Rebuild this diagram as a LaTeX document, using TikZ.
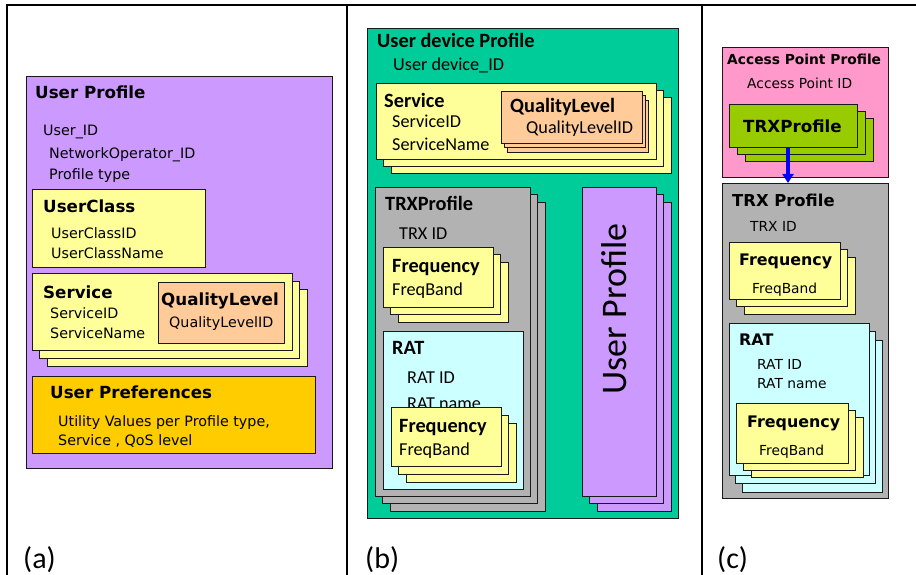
\documentclass[tikz,border=0pt]{standalone}
\usepackage{fontspec}
\setmainfont{DejaVu Sans}
\newfontfamily\calfont{Carlito}
\usepackage{tikz}
\usetikzlibrary{arrows.meta, calc}

\definecolor{lilac}{HTML}{CC99FF}
\definecolor{ylw}{HTML}{FFFF99}
\definecolor{peach}{HTML}{FFCC99}
\definecolor{gold}{HTML}{FFCC00}
\definecolor{teal}{HTML}{00CC99}
\definecolor{gry}{HTML}{B2B2B2}
\definecolor{icecyan}{HTML}{CCFFFF}
\definecolor{pinkap}{HTML}{FF99CC}
\definecolor{lime}{HTML}{99CC00}

\begin{document}
\begin{tikzpicture}[x=1pt,y=-1pt,
	box/.style={draw=black!90, line width=0.9pt, anchor=north west, inner sep=0pt, outer sep=0pt},
	sz/.style 2 args={minimum width=#1pt, minimum height=#2pt},
	frame/.style={line width=2pt, black},
	ta/.style={anchor=base west, inner sep=0pt, font=\fontsize{14.3}{17}\selectfont},
	tb/.style={anchor=base west, inner sep=0pt, font=\bfseries\fontsize{16.7}{20}\selectfont},
	tc/.style={anchor=base west, inner sep=0pt, font=\fontsize{13.8}{16}\selectfont},
	tcb/.style={anchor=base west, inner sep=0pt, font=\bfseries\fontsize{#1}{20}\selectfont},
	ca/.style={anchor=base west, inner sep=0pt, font=\calfont\fontsize{18.2}{22}\selectfont},
	cb/.style={anchor=base west, inner sep=0pt, font=\calfont\bfseries\fontsize{20.3}{24}\selectfont},
	sublbl/.style={anchor=base west, inner sep=0pt, font=\calfont\fontsize{30}{34}\selectfont},
	link/.style={line width=3.6pt, blue, -{Triangle[width=11pt,length=9pt]}}]
	\useasboundingbox (0,0) rectangle (916,575);

	% frame
	\draw[frame] (6,5) -- (916,5);
	\draw[frame] (7,5) -- (7,575);
	\draw[frame] (347,5) -- (347,575);
	\draw[frame] (702,5) -- (702,575);

	% (a) user profile
	\node[box, fill=lilac, sz={306}{392}] (upA) at (26,76) {};
	\node[tb] (upAt) at (35,99) {User Profile};
	\node[ta] (upA1) at (43,136) {User\_ID};
	\node[ta] (upA2) at (49,159) {NetworkOperator\_ID};
	\node[ta] (upA3) at (49,179) {Profile type};

	\node[box, fill=ylw, sz={173}{78}] (clsA) at (32,189) {};
	\node[tb] (clsAt) at (43,212) {UserClass};
	\node[ta] (clsA1) at (51,238) {UserClassID};
	\node[ta] (clsA2) at (51,258) {UserClassName};

	\foreach \k in {2,1,0}
		\node[box, fill=ylw, sz={260}{77}] (svcA\k) at ($(32,273)+\k*(7.5,8)$) {};
	\node[tb] (svcAt) at (43,298) {Service};
	\node[ta] (svcA1) at (50,318) {ServiceID};
	\node[ta] (svcA2) at (50,338) {ServiceName};
	\node[box, fill=peach, sz={126}{61}] (qlA) at (158,282) {};
	\node[tb] (qlAt) at (161,305) {QualityLevel};
	\node[ta] (qlA1) at (169,327) {QualityLevelID};

	\node[box, fill=gold, sz={283}{77}] (prfA) at (32,376) {};
	\node[tb] (prfAt) at (50,398) {User Preferences};
	\node[ta] (prfA1) at (58,426) {Utility Values per Profile type,};
	\node[ta] (prfA2) at (58,445) {Service , QoS level};

	% (b) user device profile
	\node[box, fill=teal, sz={311}{490}] (udpB) at (367,28) {};
	\node[cb] (udpBt) at (377,48) {User device Profile};
	\node[ca] (udpB1) at (393,71) {User device\_ID};

	\foreach \k in {2,1,0}
		\node[box, fill=ylw, sz={280}{76}] (svcB\k) at ($(376,83)+\k*(7.5,7)$) {};
	\node[cb] (svcBt) at (384,108) {Service};
	\node[ca] (svcB1) at (392,128) {ServiceID};
	\node[ca] (svcB2) at (392,151) {ServiceName};
	\foreach \k in {2,1,0}
		\node[box, fill=peach, sz={141}{52}] (qlB\k) at ($(501,91)+\k*(3.3,4.5)$) {};
	\node[cb] (qlBt) at (510,113) {QualityLevel};
	\node[ca] (qlB1) at (526,134) {QualityLevelID};

	\foreach \k in {2,1,0}
		\node[box, fill=gry, sz={155}{309}] (trxB\k) at ($(375,187)+\k*(7.5,7.7)$) {};
	\node[cb] (trxBt) at (385,211) {TRXProfile};
	\node[ca] (trxB1) at (399,239) {TRX ID};
	\foreach \k in {2,1,0}
		\node[box, fill=ylw, sz={110}{60}] (frqB\k) at ($(383,247)+\k*(7.5,7.5)$) {};
	\node[cb] (frqBt) at (392,272) {Frequency};
	\node[ca] (frqB1) at (392,295) {FreqBand};

	\node[box, fill=icecyan, sz={140}{158}] (ratB) at (383,331) {};
	\node[cb] (ratBt) at (392,354) {RAT};
	\node[ca] (ratB1) at (407,383) {RAT ID};
	\node[ca] (ratB2) at (407,409) {RAT name};
	\foreach \k in {2,1,0}
		\node[box, fill=ylw, sz={110}{59}] (frq2B\k) at ($(391,407)+\k*(7.5,8)$) {};
	\node[cb] (frq2Bt) at (399,432) {Frequency};
	\node[ca] (frq2B1) at (399,455) {FreqBand};

	\foreach \k in {2,1,0}
		\node[box, fill=lilac, sz={74}{309}] (upB\k) at ($(582,187)+\k*(7.5,7.7)$) {};
	\node[rotate=90, inner sep=0pt, font=\calfont\fontsize{36}{40}\selectfont] (upBt) at (614,309) {User Profile};

	% (c) access point profile
	\node[box, fill=pinkap, sz={166}{130}] (apC) at (722,47) {};
	\node[tcb=13.8] (apCt) at (727,65) {Access Point Profile};
	\node[tc] (apC1) at (747,89) {Access Point ID};
	\foreach \k in {2,1,0}
		\node[box, fill=lime, sz={128}{43}] (trxC\k) at ($(729,104)+\k*(8,7.3)$) {};
	\node[tcb=16.7] (trxCt) at (743,133) {TRXProfile};

	\node[box, fill=gry, sz={166}{315}] (trxpC) at (722,183) {};
	\node[tcb=16.4] (trxpCt) at (732,206) {TRX Profile};
	\node[tc] (trxpC1) at (750,231) {TRX ID};
	\foreach \k in {2,1,0}
		\node[box, fill=ylw, sz={111}{57}] (frqC\k) at ($(729,242)+\k*(7.5,7.5)$) {};
	\node[tcb=15.9] (frqCt) at (739,265) {Frequency};
	\node[tc] (frqC1) at (752,293) {FreqBand};

	\foreach \k in {2,1,0}
		\node[box, fill=icecyan, sz={140}{152}] (ratC\k) at ($(729,323)+\k*(6.5,8.5)$) {};
	\node[tcb=15.9] (ratCt) at (739,345) {RAT};
	\node[tc] (ratC1) at (757,369) {RAT ID};
	\node[tc] (ratC2) at (757,388) {RAT name};
	\foreach \k in {2,1,0}
		\node[box, fill=ylw, sz={112}{60}] (frq2C\k) at ($(736,403)+\k*(7.5,7)$) {};
	\node[tcb=15.9] (frq2Ct) at (747,427) {Frequency};
	\node[tc] (frq2C1) at (759,455) {FreqBand};

	\coordinate (arrx) at (788,0);
	\draw[link] (trxC0.south -| arrx) -- (trxpC.north -| arrx);

	% captions
	\node[sublbl] (capA) at (23,568) {(a)};
	\node[sublbl] (capB) at (365,568) {(b)};
	\node[sublbl] (capC) at (717,568) {(c)};
\end{tikzpicture}
\end{document}
